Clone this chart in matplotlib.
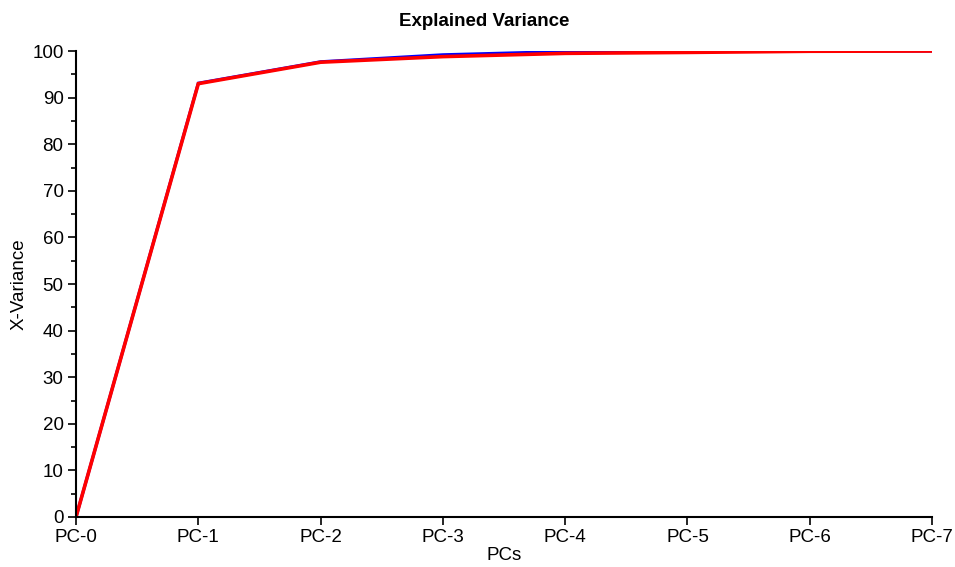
import matplotlib
matplotlib.use('Agg')
import matplotlib.pyplot as plt
from matplotlib.ticker import MultipleLocator

plt.rcParams['font.family'] = ['Liberation Sans', 'DejaVu Sans']

pcs = ['PC-0', 'PC-1', 'PC-2', 'PC-3', 'PC-4', 'PC-5', 'PC-6', 'PC-7']
calibration = [0, 93.1, 97.7, 99.2, 99.9, 99.9, 99.97, 100]
validation = [0, 93.0, 97.6, 98.8, 99.5, 99.7, 99.95, 100]

fig = plt.figure(figsize=(9.55, 5.67), dpi=100)
ax = fig.add_axes([0.0796, 0.0882, 0.8964, 0.8218])

x = list(range(len(pcs)))
ax.plot(x, calibration, color='#0000ff', lw=2.2, solid_joinstyle='miter')
ax.plot(x, validation, color='#ff0000', lw=2.6, solid_joinstyle='miter')

ax.set_xlim(0, len(pcs) - 1)
ax.set_ylim(0, 100)
ax.set_xticks(x)
ax.set_xticklabels(pcs)
ax.yaxis.set_major_locator(MultipleLocator(10))
ax.yaxis.set_minor_locator(MultipleLocator(5))

for s in ['top', 'right']:
    ax.spines[s].set_visible(False)
for s in ['left', 'bottom']:
    ax.spines[s].set_linewidth(1.5)
ax.tick_params(which='major', length=6, width=1.2, labelsize=13.5, pad=3)
ax.tick_params(which='minor', length=3.5, width=1.2)
ax.tick_params(axis='x', which='minor', bottom=False)

# title sits a bit left of the axes centre in the original
fig.text(484 / 955, 1 - 22 / 567, 'Explained Variance', fontsize=13.5,
         fontweight='bold', ha='center', va='center')
ax.set_xlabel('PCs', fontsize=13.5, labelpad=0.5)
ax.set_ylabel('X-Variance', fontsize=13.5, labelpad=3)

fig.savefig('out.png', dpi=100)
